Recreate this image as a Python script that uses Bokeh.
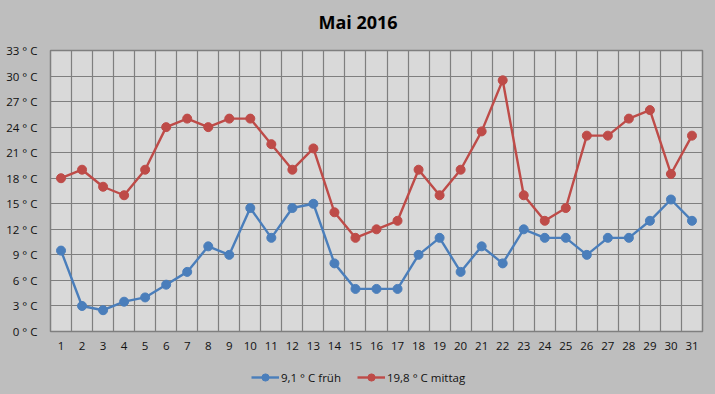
from bokeh.plotting import figure
from bokeh.layouts import column
from bokeh.models import Range1d, FixedTicker, Legend, LegendItem, Label
from bokeh.embed import file_html
from bokeh.resources import INLINE

days = list(range(1, 32))
frueh = [9.5, 3, 2.5, 3.5, 4, 5.5, 7, 10, 9, 14.5, 11, 14.5, 15, 8, 5, 5, 5,
         9, 11, 7, 10, 8, 12, 11, 11, 9, 11, 11, 13, 15.5, 13]
mittag = [18, 19, 17, 16, 19, 24, 25, 24, 25, 25, 22, 19, 21.5, 14, 11, 12, 13,
          19, 16, 19, 23.5, 29.5, 16, 13, 14.5, 23, 23, 25, 26, 18.5, 23]
y_ticks = [0, 3, 6, 9, 12, 15, 18, 21, 24, 27, 30, 33]
y_labels = {t: f"{t} ° C" for t in y_ticks}
x_labels = {d: str(d) for d in days}
title_text = "Mai 2016"
legend_labels = ["9,1 ° C früh", "19,8 ° C mittag"]

BLUE = "#4A7EBB"
RED = "#BE4B48"
BG = "#BEBEBE"
FONT = "Open Sans"

W = 715
H_TITLE, H_MAIN, H_LEG = 40, 324, 30
FRAME_LEFT = 50  # column aligns strip frames with the main chart's frame


def strip(height):
    f = figure(width=W, height=height, output_backend="svg", toolbar_location=None,
               x_range=Range1d(0, 1), y_range=Range1d(0, 1),
               x_axis_location=None, y_axis_location=None,
               min_border_left=0, min_border_right=0, min_border_top=0,
               min_border_bottom=0)
    f.grid.visible = False
    f.outline_line_color = None
    f.border_fill_color = BG
    f.background_fill_color = BG
    return f


# title strip
tf = strip(H_TITLE)
tf.add_layout(Label(x=W / 2 - FRAME_LEFT, y=19, x_units="screen", y_units="screen",
                    text=title_text, text_align="center", text_baseline="alphabetic",
                    text_font=FONT, text_font_size="18px", text_font_style="bold",
                    text_color="#000000"))

# main chart
p = figure(width=W, height=H_MAIN, output_backend="svg", toolbar_location=None,
           x_range=Range1d(0.5, 31.5), y_range=Range1d(0, 33),
           min_border_left=FRAME_LEFT, min_border_right=13, min_border_top=10,
           min_border_bottom=33)
p.border_fill_color = BG
p.background_fill_color = "#D9D9D9"
p.outline_line_color = "#7F7F7F"
p.outline_line_width = 1.5

p.xgrid.ticker = FixedTicker(ticks=[0.5 + i for i in range(32)])
p.ygrid.ticker = FixedTicker(ticks=y_ticks)
for g in (p.xgrid, p.ygrid):
    g.grid_line_color = "#7F7F7F"
    g.grid_line_width = 1.2

p.xaxis.ticker = FixedTicker(ticks=days)
p.xaxis.major_label_overrides = x_labels
p.yaxis.ticker = FixedTicker(ticks=y_ticks)
p.yaxis.major_label_overrides = y_labels
for ax in (p.xaxis, p.yaxis):
    ax.axis_line_color = None
    ax.major_tick_line_color = None
    ax.minor_tick_line_color = None
    ax.major_tick_out = 0
    ax.major_tick_in = 0
    ax.minor_tick_out = 0
    ax.major_label_text_font = FONT
    ax.major_label_text_font_size = "11.5px"
    ax.major_label_text_color = "#111111"
p.xaxis.major_label_standoff = 10
p.yaxis.major_label_standoff = 13

p.line(days, frueh, line_color=BLUE, line_width=2.4)
p.scatter(days, frueh, size=9, fill_color=BLUE, line_color=BLUE)
p.line(days, mittag, line_color=RED, line_width=2.4)
p.scatter(days, mittag, size=9, fill_color=RED, line_color=RED)

# legend strip (one off-screen sample per series so legend glyphs draw)
lf = strip(H_LEG)
la = lf.line([-5, -4], [-5, -4], line_color=BLUE, line_width=2.4)
lb = lf.scatter([-5], [-5], size=8, fill_color=BLUE, line_color=BLUE)
lc = lf.line([-5, -4], [-5, -4], line_color=RED, line_width=2.4)
ld = lf.scatter([-5], [-5], size=8, fill_color=RED, line_color=RED)
legend = Legend(items=[LegendItem(label=legend_labels[0], renderers=[la, lb]),
                       LegendItem(label=legend_labels[1], renderers=[lc, ld])],
                orientation="horizontal", location=(252 - FRAME_LEFT - 1, 8))
legend.background_fill_alpha = 0
legend.border_line_color = None
legend.label_text_font = FONT
legend.label_text_font_size = "11.5px"
legend.label_text_color = "#111111"
legend.glyph_width = 28
legend.glyph_height = 18
legend.label_height = 18
legend.label_standoff = 2
legend.spacing = 16
legend.padding = 0
legend.margin = 0
lf.add_layout(legend)

layout = column(tf, p, lf, spacing=0)

template = """
{% block postamble %}
<style>html, body { background: #BEBEBE; }</style>
{% endblock %}
"""
open("out.html", "w").write(file_html(layout, INLINE, template=template))
